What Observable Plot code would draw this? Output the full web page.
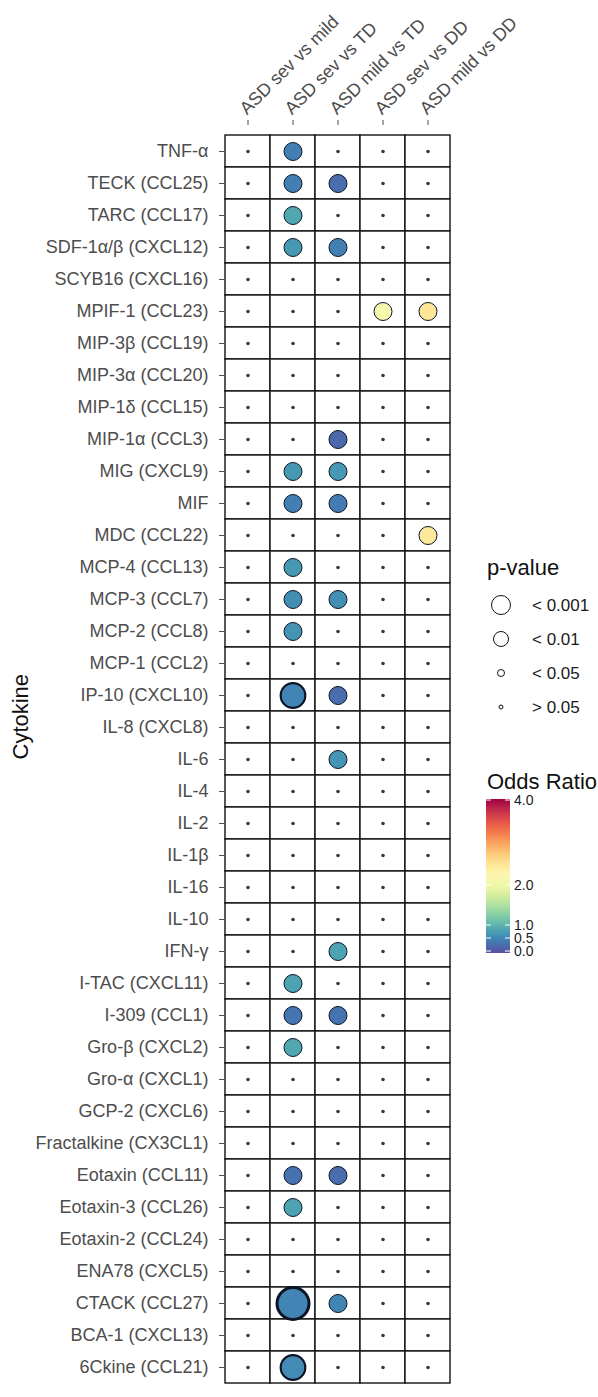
<!DOCTYPE html>
<html><head><meta charset="utf-8">
<script src="https://cdn.jsdelivr.net/npm/d3@7"></script>
<script src="https://cdn.jsdelivr.net/npm/@observablehq/plot@0.6"></script>
<style>body{margin:0;background:#fff;font-family:"Liberation Sans",Arial,sans-serif}</style>
</head><body><div id="chart"></div>
<script>
const cytokines = ["TNF-α","TECK (CCL25)","TARC (CCL17)","SDF-1α/β (CXCL12)","SCYB16 (CXCL16)","MPIF-1 (CCL23)","MIP-3β (CCL19)","MIP-3α (CCL20)","MIP-1δ (CCL15)","MIP-1α (CCL3)","MIG (CXCL9)","MIF","MDC (CCL22)","MCP-4 (CCL13)","MCP-3 (CCL7)","MCP-2 (CCL8)","MCP-1 (CCL2)","IP-10 (CXCL10)","IL-8 (CXCL8)","IL-6","IL-4","IL-2","IL-1β","IL-16","IL-10","IFN-γ","I-TAC (CXCL11)","I-309 (CCL1)","Gro-β (CXCL2)","Gro-α (CXCL1)","GCP-2 (CXCL6)","Fractalkine (CX3CL1)","Eotaxin (CCL11)","Eotaxin-3 (CCL26)","Eotaxin-2 (CCL24)","ENA78 (CXCL5)","CTACK (CCL27)","BCA-1 (CXCL13)","6Ckine (CCL21)"];
const comparisons = ["ASD sev vs mild","ASD sev vs TD","ASD mild vs TD","ASD sev vs DD","ASD mild vs DD"];

// significant results
const sigCytokine = ["TNF-α","TECK (CCL25)","TECK (CCL25)","TARC (CCL17)","SDF-1α/β (CXCL12)","SDF-1α/β (CXCL12)","MPIF-1 (CCL23)","MPIF-1 (CCL23)","MIP-1α (CCL3)","MIG (CXCL9)","MIG (CXCL9)","MIF","MIF","MDC (CCL22)","MCP-4 (CCL13)","MCP-3 (CCL7)","MCP-3 (CCL7)","MCP-2 (CCL8)","IP-10 (CXCL10)","IP-10 (CXCL10)","IL-6","IFN-γ","I-TAC (CXCL11)","I-309 (CCL1)","I-309 (CCL1)","Gro-β (CXCL2)","Eotaxin (CCL11)","Eotaxin (CCL11)","Eotaxin-3 (CCL26)","CTACK (CCL27)","CTACK (CCL27)","6Ckine (CCL21)"];
const sigComparison = ["ASD sev vs TD","ASD sev vs TD","ASD mild vs TD","ASD sev vs TD","ASD sev vs TD","ASD mild vs TD","ASD sev vs DD","ASD mild vs DD","ASD mild vs TD","ASD sev vs TD","ASD mild vs TD","ASD sev vs TD","ASD mild vs TD","ASD mild vs DD","ASD sev vs TD","ASD sev vs TD","ASD mild vs TD","ASD sev vs TD","ASD sev vs TD","ASD mild vs TD","ASD mild vs TD","ASD mild vs TD","ASD sev vs TD","ASD sev vs TD","ASD mild vs TD","ASD sev vs TD","ASD sev vs TD","ASD mild vs TD","ASD sev vs TD","ASD sev vs TD","ASD mild vs TD","ASD sev vs TD"];
const sigOddsRatio = [0.5,0.5,0.3,0.9,0.75,0.5,2.2,2.5,0.25,0.75,0.75,0.5,0.45,2.45,0.75,0.65,0.65,0.7,0.55,0.3,0.7,0.85,0.85,0.4,0.35,0.9,0.35,0.3,0.85,0.55,0.55,0.6];
const sigPValue = ["< 0.05","< 0.05","< 0.05","< 0.05","< 0.05","< 0.05","< 0.05","< 0.05","< 0.05","< 0.05","< 0.05","< 0.05","< 0.05","< 0.05","< 0.05","< 0.05","< 0.05","< 0.05","< 0.01","< 0.05","< 0.05","< 0.05","< 0.05","< 0.05","< 0.05","< 0.05","< 0.05","< 0.05","< 0.05","< 0.001","< 0.05","< 0.01"];

const pLevels = ["< 0.001","< 0.01","< 0.05","> 0.05"];
const orTicks = [0, 0.5, 1, 2, 4];
const orTickLabels = ["0.0","0.5","1.0","2.0","4.0"];
const orStops = [0, 0.086, 0.172, 0.437, 1];

// styles
const pRadius = {"< 0.001": 16, "< 0.01": 12.3, "< 0.05": 9, "> 0.05": 1.8};
const pStroke = {"< 0.001": 3, "< 0.01": 2.2, "< 0.05": 1, "> 0.05": 0};
const legendRadius = {"< 0.001": 9.5, "< 0.01": 7.5, "< 0.05": 3.5, "> 0.05": 2};

const sig = sigCytokine.map((c, i) => ({cytokine: c, comparison: sigComparison[i], or: sigOddsRatio[i], p: sigPValue[i]}));
const sigKey = new Set(sig.map(d => d.cytokine + "|" + d.comparison));
const cells = cytokines.flatMap(c => comparisons.map(k => ({cytokine: c, comparison: k})));
const nonSig = cells.filter(d => !sigKey.has(d.cytokine + "|" + d.comparison));

// piecewise colour scale (Spectral, with gradient stops as in the colourbar)
const colorDomain = [], colorRange = [];
const steps = 8;
for (let i = 0; i < orTicks.length - 1; i++) {
  for (let k = (i === 0 ? 0 : 1); k <= steps; k++) {
    const v = orTicks[i] + (orTicks[i+1] - orTicks[i]) * k / steps;
    const f = orStops[i] + (orStops[i+1] - orStops[i]) * k / steps;
    colorDomain.push(v);
    colorRange.push(d3.interpolateSpectral(1 - f));
  }
}

const font = "Liberation Sans, Arial, sans-serif";
const chart = Plot.plot({
  width: 598, height: 1397,
  marginLeft: 224, marginRight: 148, marginTop: 124, marginBottom: 3,
  style: {fontFamily: font, background: "white"},
  x: {domain: comparisons, padding: 0},
  y: {domain: cytokines, padding: 0},
  r: {type: "identity"},
  color: {type: "linear", domain: colorDomain, range: colorRange},
  marks: [
    Plot.cell(cells, {x: "comparison", y: "cytokine", fill: "white", stroke: "#111", strokeWidth: 1.4}),
    Plot.dot(nonSig, {x: "comparison", y: "cytokine", r: 1.8, fill: "#3a3a3a"}),
    Plot.dot(sig, {x: "comparison", y: "cytokine", r: d => pRadius[d.p], fill: "or", stroke: "#0b1526", strokeWidth: d => pStroke[d.p]}),
    Plot.axisX({anchor: "top", tickSize: 5, tickFormat: () => "", label: null, color: "#4d4d4d"}),
    Plot.axisX({anchor: "top", tickRotate: -45, textAnchor: "start", tickSize: 0, tickPadding: 13, dx: -5, fontSize: 18, label: null, color: "#4d4d4d"}),
    Plot.axisY({tickSize: 5, tickPadding: 11, fontSize: 18, label: null, color: "#4d4d4d"}),
    Plot.text(["Cytokine"], {frameAnchor: "left", dx: -204, rotate: -90, fontSize: 22, fill: "#111"})
  ]
});
document.getElementById("chart").appendChild(chart);

// legends
const svg = d3.select(chart);
const cs = chart.scale("color");
const g = svg.append("g").attr("font-family", font).attr("text-anchor", "start");
g.append("text").attr("x", 487).attr("y", 575).attr("font-size", 22).attr("fill", "#111").text("p-value");
pLevels.forEach((lev, i) => {
  const cy = 605 + i * 34;
  g.append("circle").attr("cx", 501).attr("cy", cy).attr("r", legendRadius[lev]).attr("fill", "none").attr("stroke", "#111").attr("stroke-width", 1);
  g.append("text").attr("x", 532).attr("y", cy).attr("dy", "0.35em").attr("font-size", 17).attr("fill", "#1a1a1a").text(lev);
});

g.append("text").attr("x", 487).attr("y", 789).attr("font-size", 22).attr("fill", "#111").text("Odds Ratio");
const grad = svg.append("defs").append("linearGradient").attr("id", "orgrad").attr("x1", 0).attr("y1", 1).attr("x2", 0).attr("y2", 0);
const stopToValue = d3.scaleLinear(orStops, orTicks);
d3.range(0, 1.0001, 0.02).forEach(t => {
  grad.append("stop").attr("offset", t).attr("stop-color", cs.apply(stopToValue(t)));
});
const barX = 486, barW = 24, barTop = 799, barBottom = 953;
g.append("rect").attr("x", barX).attr("y", barTop).attr("width", barW).attr("height", barBottom - barTop).attr("fill", "url(#orgrad)");
const yBar = d3.scaleLinear([0, 1], [951, 800]);
orTicks.forEach((v, i) => {
  const y = yBar(orStops[i]);
  g.append("line").attr("x1", barX).attr("x2", barX + 5).attr("y1", y).attr("y2", y).attr("stroke", "white");
  g.append("line").attr("x1", barX + barW - 5).attr("x2", barX + barW).attr("y1", y).attr("y2", y).attr("stroke", "white");
  g.append("text").attr("x", barX + barW + 4).attr("y", y).attr("dy", "0.35em").attr("font-size", 14).attr("fill", "#1a1a1a").text(orTickLabels[i]);
});
</script></body></html>
